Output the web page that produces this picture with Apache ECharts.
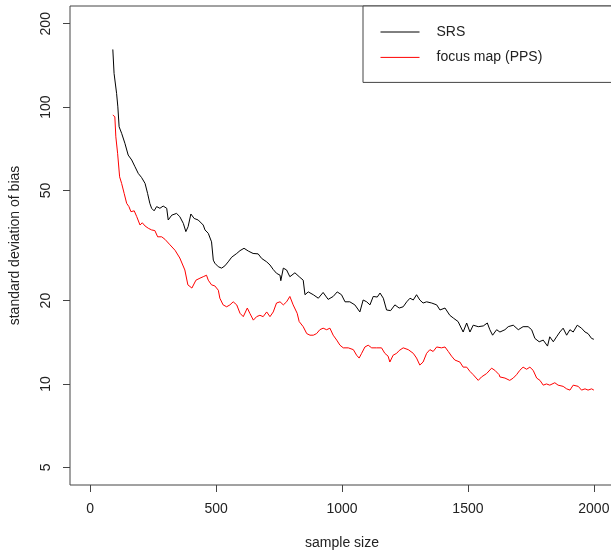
<!DOCTYPE html>
<html>
<head>
<meta charset="utf-8">
<script src="https://cdn.jsdelivr.net/npm/echarts@6.0.0/dist/echarts.min.js"></script>
<style>
html,body{margin:0;padding:0;background:#fff;}
#chart{width:611px;height:551px;}
</style>
</head>
<body>
<div id="chart"></div>
<script>
// sample sizes and standard deviation of bias, SRS
var srsN = [90,95,105,110,115,125,138,151,165,178,
191,204,218,228,237,244,254,264,277,290,
304,310,324,343,356,370,380,389,400,413,
429,449,456,469,482,489,495,509,522,535,
548,562,582,595,611,628,647,667,681,701,
714,727,740,754,757,767,780,793,813,830,
846,853,866,886,906,925,945,965,981,998,
1012,1031,1051,1071,1084,1098,1111,1124,1140,1151,
1164,1177,1193,1210,1227,1243,1257,1270,1283,1296,
1309,1322,1336,1356,1376,1389,1409,1428,1442,1461,
1481,1495,1508,1521,1541,1561,1577,1587,1598,1614,
1627,1647,1660,1680,1700,1719,1739,1753,1766,1783,
1799,1816,1825,1839,1852,1865,1878,1892,1905,1918,
1934,1951,1965,1977,1991,2000];
var srsVals = [161.5,132.3,112.1,100.2,84.9,80.4,74.0,67.1,64.4,60.9,
57.6,55.7,53.0,48.8,44.9,43.1,42.2,43.7,43.1,43.9,
43.1,39.1,40.7,41.3,40.2,38.0,35.5,37.0,41.1,39.6,
39.1,37.5,36.0,35.0,32.6,28.0,27.3,26.5,26.2,26.7,
27.6,28.7,29.6,30.3,30.9,30.2,29.6,29.5,28.4,27.6,
26.9,25.9,25.1,24.7,23.6,26.2,25.8,24.4,25.2,24.4,
23.7,21.0,21.5,21.0,20.4,21.4,20.2,20.7,21.5,21.0,
19.8,19.8,19.3,18.2,20.1,19.8,19.3,20.7,20.6,21.3,
20.4,18.5,18.4,19.3,18.8,19.0,19.8,20.4,20.1,21.0,
20.1,19.6,19.8,19.6,19.3,18.5,18.8,17.7,17.3,16.8,
15.4,16.6,15.4,16.3,16.1,16.2,16.6,15.7,15.0,15.7,
15.4,15.7,16.1,16.3,15.7,16.1,16.1,15.7,14.6,14.2,
14.4,13.7,14.8,14.2,14.8,15.4,15.9,15.0,15.7,15.4,
16.3,15.9,15.4,15.2,14.6,14.5];

// focus map (PPS)
var ppsN = [90,98,102,109,117,125,135,145,154,162,
175,185,198,207,218,231,244,257,268,284,
297,317,337,356,376,388,404,420,436,449,
462,469,482,495,509,515,528,542,555,568,
582,595,608,624,634,648,661,674,687,701,
714,727,740,754,767,780,793,806,822,830,
846,860,873,886,899,912,925,939,952,965,
979,992,1005,1025,1045,1058,1068,1078,1091,1104,
1118,1137,1157,1170,1183,1190,1203,1217,1227,1230,
1243,1263,1283,1296,1309,1322,1336,1349,1362,1376,
1395,1409,1422,1435,1448,1468,1481,1495,1508,1521,
1541,1554,1574,1594,1607,1624,1627,1647,1666,1680,
1693,1706,1719,1733,1746,1759,1773,1786,1799,1812,
1825,1845,1858,1878,1892,1905,1918,1938,1951,1965,
1977,1991,2000];
var ppsVals = [93.6,92.3,78.1,68.1,56.0,53.0,48.8,44.9,43.7,41.9,
42.2,40.2,37.5,38.2,37.2,36.5,36.0,35.8,34.0,34.0,
33.3,31.8,30.4,28.5,25.8,22.8,22.2,23.7,24.1,24.4,
24.7,23.7,22.8,22.6,21.8,20.4,19.3,19.0,19.3,19.8,
19.3,18.0,17.5,18.8,18.0,17.0,17.5,17.7,17.5,18.2,
17.5,18.2,19.6,19.8,19.3,19.8,20.7,19.3,18.0,16.8,
16.1,15.2,15.0,15.0,15.2,15.7,15.9,15.7,15.9,15.0,
14.4,13.8,13.5,13.5,13.3,12.7,12.4,12.9,13.6,13.8,
13.5,13.5,13.5,12.9,12.6,12.0,12.7,12.9,13.2,13.3,
13.5,13.3,12.9,12.4,11.7,12.0,12.9,13.3,13.1,13.6,
13.5,13.6,13.1,12.6,12.2,12.0,11.5,11.5,11.1,10.8,
10.3,10.6,10.9,11.4,11.2,10.8,10.6,10.5,10.3,10.5,
10.8,11.2,11.5,11.3,11.5,11.2,10.5,10.3,9.9,10.0,
9.9,10.1,9.9,9.8,9.6,9.5,9.9,9.8,9.5,9.6,
9.5,9.6,9.5];

var xTicks = [0, 500, 1000, 1500, 2000];
var yTicks = [5, 10, 20, 50, 100, 200];
var seriesNames = ['SRS', 'focus map (PPS)'];

function pairs(xs, ys) {
  var out = [];
  for (var i = 0; i < xs.length; i++) out.push([xs[i], ys[i]]);
  return out;
}

var chart = echarts.init(document.getElementById('chart'), null, {renderer: 'canvas'});
var FONT = '"Liberation Sans", Arial, sans-serif';
var option = {
  animation: false,
  backgroundColor: '#ffffff',
  textStyle: {fontFamily: FONT},
  grid: {
    left: 70, top: 6, right: -3, bottom: 66,
    show: true, borderColor: '#444', borderWidth: 1,
    backgroundColor: 'transparent',
    containLabel: false, outerBoundsMode: 'none'
  },
  legend: {
    orient: 'vertical',
    left: 363, top: 6,
    padding: [19, 150, 18, 17],
    itemWidth: 39, itemHeight: 14, itemGap: 11.4,
    borderColor: '#444', borderWidth: 1, borderRadius: 0,
    backgroundColor: '#ffffff',
    itemStyle: {opacity: 0},
    lineStyle: {width: 1},
    textStyle: {fontSize: 14, color: '#222', fontFamily: FONT, padding: [0, 0, 0, 12]},
    data: seriesNames
  },
  xAxis: {
    type: 'value', min: -80, max: 2080,
    name: 'sample size', nameLocation: 'middle', nameGap: 51,
    nameTextStyle: {fontSize: 14, color: '#222', fontFamily: FONT},
    axisLine: {show: false, onZero: false},
    axisTick: {show: true, inside: false, length: 7, lineStyle: {color: '#444', width: 1}, customValues: xTicks},
    axisLabel: {customValues: xTicks, fontSize: 14, color: '#222', margin: 17, fontFamily: FONT,
      formatter: function (v) { return String(v); }},
    splitLine: {show: false}
  },
  yAxis: {
    type: 'log', logBase: 10, min: 4.315, max: 231.8,
    name: 'standard deviation of bias', nameLocation: 'middle', nameGap: 48, nameRotate: 90,
    nameTextStyle: {fontSize: 14, color: '#222', fontFamily: FONT},
    axisLine: {show: false, onZero: false},
    axisTick: {show: true, inside: false, length: 7, lineStyle: {color: '#444', width: 1}, customValues: yTicks},
    axisLabel: {customValues: yTicks, fontSize: 14, color: '#222', margin: 17, rotate: 90, fontFamily: FONT,
      formatter: function (v) { return String(v); }},
    splitLine: {show: false}
  },
  series: [
    {name: seriesNames[0], type: 'line', data: pairs(srsN, srsVals), symbol: 'none', showSymbol: false,
     lineStyle: {color: '#000000', width: 1}, itemStyle: {color: '#000000'}},
    {name: seriesNames[1], type: 'line', data: pairs(ppsN, ppsVals), symbol: 'none', showSymbol: false,
     lineStyle: {color: '#ff0000', width: 1}, itemStyle: {color: '#ff0000'}}
  ]
};
chart.setOption(option);
</script>
</body>
</html>
